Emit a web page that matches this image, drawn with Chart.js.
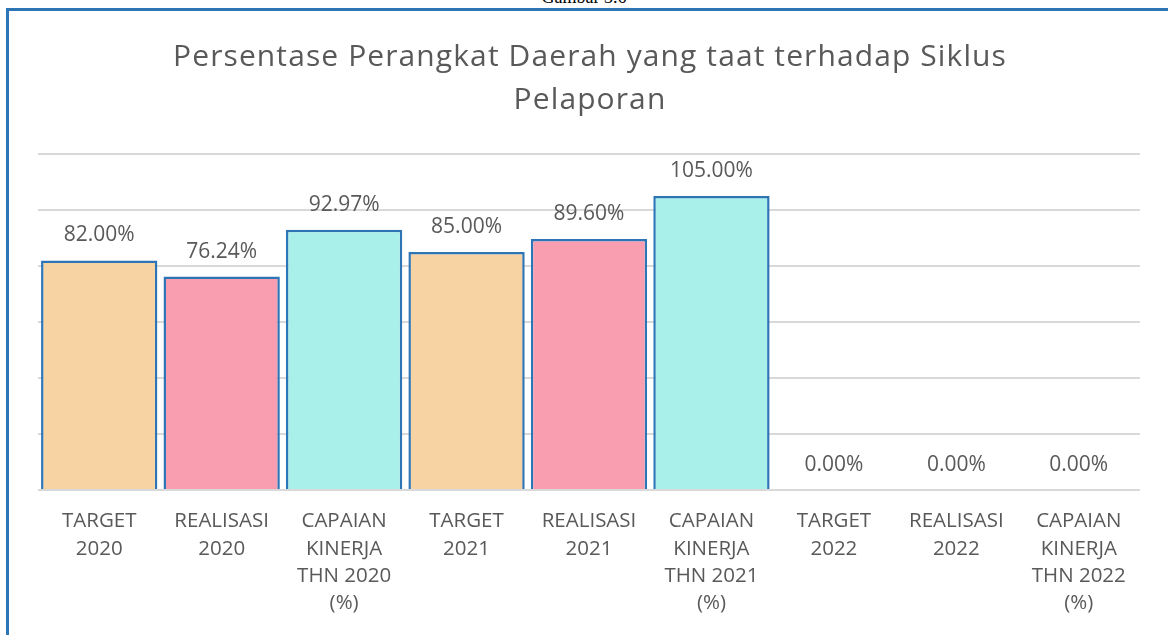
<!DOCTYPE html>
<html>
<head>
<meta charset="utf-8">
<script src="https://cdn.jsdelivr.net/npm/chart.js@4"></script>
<style>
  html, body { margin: 0; padding: 0; background: #fff; overflow: hidden; }
  #wrap { position: relative; width: 1168px; height: 635px; overflow: hidden; }
  #caption { position: absolute; left: 0; width: 1168px; top: -13px; text-align: center;
             font-family: "Liberation Serif", serif; font-size: 18px; color: #000; }
  #frame { position: absolute; left: 6px; top: 8px; width: 1200px; height: 700px;
           border-left: 3px solid #2E75B6; border-top: 3px solid #2E75B6; }
  canvas { position: absolute; left: 0; top: 0; }
</style>
</head>
<body>
<div id="wrap">
  <div id="caption">Gambar 3.6</div>
  <div id="frame"></div>
  <canvas id="c" width="1168" height="635"></canvas>
</div>
<script>
const titleLines = ["Persentase Perangkat Daerah yang taat terhadap Siklus", "Pelaporan"];
const categories = [
  ["TARGET", "2020"],
  ["REALISASI", "2020"],
  ["CAPAIAN", "KINERJA", "THN 2020", "(%)"],
  ["TARGET", "2021"],
  ["REALISASI", "2021"],
  ["CAPAIAN", "KINERJA", "THN 2021", "(%)"],
  ["TARGET", "2022"],
  ["REALISASI", "2022"],
  ["CAPAIAN", "KINERJA", "THN 2022", "(%)"]
];
const values = [82.00, 76.24, 92.97, 85.00, 89.60, 105.00, 0.00, 0.00, 0.00];
const barColors = ["#F7D2A2", "#F99EB1", "#A8F0E9", "#F7D2A2", "#F99EB1", "#A8F0E9", "#F7D2A2", "#F99EB1", "#A8F0E9"];
const yTicks = { min: 0, max: 120, step: 20 };

const FONT = "'Open Sans', sans-serif";
const TXT = "#595959";

const titleDraw = {
  id: "titleDraw",
  afterDraw(chart) {
    const ctx = chart.ctx;
    ctx.save();
    ctx.font = "30px " + FONT;
    ctx.fillStyle = TXT;
    ctx.textAlign = "center";
    ctx.textBaseline = "middle";
    if ("letterSpacing" in ctx) ctx.letterSpacing = "1.1px";
    ctx.fillText(titleLines[0], 590, 57);
    ctx.fillText(titleLines[1], 590, 100);
    ctx.restore();
  }
};

const valueLabels = {
  id: "valueLabels",
  afterDatasetsDraw(chart) {
    const ctx = chart.ctx;
    const meta = chart.getDatasetMeta(0);
    ctx.save();
    ctx.font = "21px " + FONT;
    ctx.fillStyle = TXT;
    ctx.textAlign = "center";
    ctx.textBaseline = "middle";
    meta.data.forEach((bar, i) => {
      ctx.fillText(values[i].toFixed(2) + "%", bar.x, bar.y - 25);
    });
    ctx.restore();
  }
};

new Chart(document.getElementById("c"), {
  type: "bar",
  data: {
    labels: categories,
    datasets: [{
      data: values,
      backgroundColor: barColors,
      borderColor: "#2E75B6",
      borderWidth: (c) => (c.raw === 0 ? 0 : 2.5),
      borderSkipped: "bottom",
      barPercentage: 0.95,
      categoryPercentage: 1.0
    }]
  },
  options: {
    responsive: false,
    animation: false,
    devicePixelRatio: 1,
    layout: { padding: { left: 38, right: 28, top: 154, bottom: 0 } },
    plugins: {
      legend: { display: false },
      tooltip: { enabled: false },
      title: { display: false }
    },
    scales: {
      x: {
        grid: { display: false, drawTicks: false },
        border: { display: false },
        ticks: {
          color: TXT,
          font: { family: FONT, size: 20.5, lineHeight: 1.33 },
          padding: 18,
          maxRotation: 0,
          autoSkip: false
        },
        afterFit(scale) { scale.height = 145; }
      },
      y: {
        min: yTicks.min,
        max: yTicks.max,
        ticks: { display: false, stepSize: yTicks.step },
        grid: { color: "#D9D9D9", lineWidth: 2, drawTicks: false },
        border: { display: false },
        afterFit(scale) { scale.width = 0; }
      }
    }
  },
  plugins: [valueLabels, titleDraw]
});
</script>
</body>
</html>
